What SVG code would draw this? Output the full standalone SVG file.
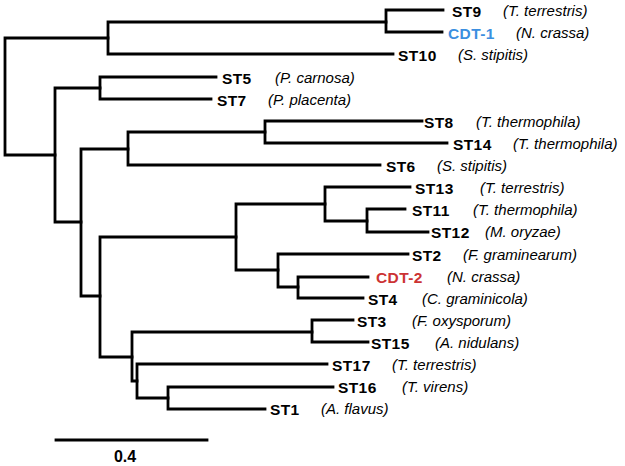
<svg xmlns="http://www.w3.org/2000/svg" width="625" height="466" viewBox="0 0 625 466">
<style>
.br{fill:none;stroke:#000;stroke-width:2.8;stroke-linejoin:miter;stroke-linecap:square}
.id{font-family:"Liberation Sans",Arial,sans-serif;font-weight:bold;font-size:15.5px;letter-spacing:0.4px;fill:#000}
.sp{font-family:"Liberation Sans",Arial,sans-serif;font-style:italic;font-size:15px;fill:#000}
.blue{fill:#3b8fe0}
.red{fill:#cc3333}
</style>
<rect width="625" height="466" fill="#fff"/>
<g id="connectors">
<path class="br" d="M108,38 H5 V155 H55"/>
<path class="br" d="M386,22 H108 V54 H393"/>
<path class="br" d="M443,10 H386 V32 H442"/>
<path class="br" d="M100,88 H55 V222 H81"/>
<path class="br" d="M216,77 H100 V99 H211"/>
<path class="br" d="M128,149 H81 V296 H100"/>
<path class="br" d="M265,132 H128 V165 H380"/>
<path class="br" d="M422,121 H265 V143 H447"/>
<path class="br" d="M236,237 H100 V357 H132"/>
<path class="br" d="M325,204 H236 V270 H278"/>
<path class="br" d="M410,187 H325 V221 H367"/>
<path class="br" d="M405,209 H367 V232 H428"/>
<path class="br" d="M408,254 H278 V287 H298"/>
<path class="br" d="M368,277 H298 V298 H363"/>
<path class="br" d="M312,332 H132 V381 H137"/>
<path class="br" d="M353,320 H312 V342 H368"/>
<path class="br" d="M327,364 H137 V398 H168"/>
<path class="br" d="M333,387 H168 V409 H265"/>
</g>
<g id="ST9"><text class="id" x="452" y="16.5">ST9</text><text class="sp" x="503" y="15.5">(T. terrestris)</text></g>
<g id="CDT-1"><text class="id blue" x="448" y="38.5">CDT-1</text><text class="sp" x="516" y="37.5">(N. crassa)</text></g>
<g id="ST10"><text class="id" x="398" y="60.5">ST10</text><text class="sp" x="458" y="59.5">(S. stipitis)</text></g>
<g id="ST5"><text class="id" x="222" y="83.5">ST5</text><text class="sp" x="275" y="82.5">(P. carnosa)</text></g>
<g id="ST7"><text class="id" x="217" y="105.5">ST7</text><text class="sp" x="268" y="104.5">(P. placenta)</text></g>
<g id="ST8"><text class="id" x="424" y="127.5">ST8</text><text class="sp" x="476" y="126.5">(T. thermophila)</text></g>
<g id="ST14"><text class="id" x="453" y="149.5">ST14</text><text class="sp" x="513" y="148.5">(T. thermophila)</text></g>
<g id="ST6"><text class="id" x="386" y="171.5">ST6</text><text class="sp" x="437" y="170.5">(S. stipitis)</text></g>
<g id="ST13"><text class="id" x="415" y="193.5">ST13</text><text class="sp" x="480" y="192.5">(T. terrestris)</text></g>
<g id="ST11"><text class="id" x="412" y="215.5">ST11</text><text class="sp" x="473" y="214.5">(T. thermophila)</text></g>
<g id="ST12"><text class="id" x="431" y="238">ST12</text><text class="sp" x="485" y="237">(M. oryzae)</text></g>
<g id="ST2"><text class="id" x="412" y="260.5">ST2</text><text class="sp" x="463" y="259.5">(F. graminearum)</text></g>
<g id="CDT-2"><text class="id red" x="376" y="283">CDT-2</text><text class="sp" x="447" y="282">(N. crassa)</text></g>
<g id="ST4"><text class="id" x="368" y="304.5">ST4</text><text class="sp" x="422" y="303.5">(C. graminicola)</text></g>
<g id="ST3"><text class="id" x="357" y="326.5">ST3</text><text class="sp" x="412" y="325.5">(F. oxysporum)</text></g>
<g id="ST15"><text class="id" x="371" y="348.5">ST15</text><text class="sp" x="435" y="347.5">(A. nidulans)</text></g>
<g id="ST17"><text class="id" x="332" y="370.5">ST17</text><text class="sp" x="392" y="369.5">(T. terrestris)</text></g>
<g id="ST16"><text class="id" x="338" y="393">ST16</text><text class="sp" x="402" y="392">(T. virens)</text></g>
<g id="ST1"><text class="id" x="270" y="415">ST1</text><text class="sp" x="321" y="414">(A. flavus)</text></g>
<g id="scalebar">
<path class="br" d="M56,440 H207"/>
<text class="id" x="125" y="462" text-anchor="middle" style="letter-spacing:0;font-size:16px">0.4</text>
</g>
</svg>
